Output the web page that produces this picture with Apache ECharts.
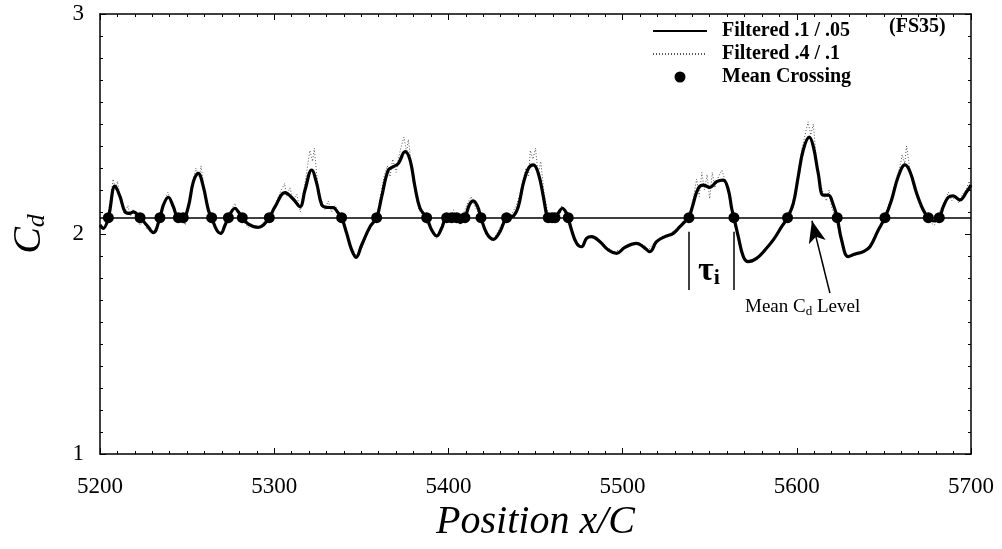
<!DOCTYPE html>
<html>
<head>
<meta charset="utf-8">
<script src="https://cdn.jsdelivr.net/npm/echarts@6/dist/echarts.min.js"></script>
<style>
html,body{margin:0;padding:0;background:#fff;}
#c{width:1002px;height:549px;}
</style>
</head>
<body>
<div id="c"></div>
<script>
// ---- data ----
const meanLevel = 2.074;

const solidX = [5200,5201.9,5204.8,5208.6,5211.5,5214.4,5217.2,5219.1,5223,5226.8,5230.6,5234.4,5236.4,5239.2,5242.1,5245,5247.8,5250.7,5253.6,5256.4,5259.3,5262.2,5264.1,5267,5269.3,5271.8,5273.7,5277.5,5279.4,5281.7,5285.2,5290.9,5293.8,5297.2,5300.5,5306.2,5311,5314.8,5317.7,5321.5,5324.4,5327.3,5330.1,5334,5336.2,5338.7,5341.6,5344.5,5347,5350.2,5355,5358.8,5361.7,5365.5,5368.4,5371.3,5375.1,5378,5380.8,5383.7,5387.5,5390.4,5393.3,5396.1,5399,5401.9,5404.8,5406.7,5409.5,5412,5414.3,5416.8,5418.7,5422,5425.8,5429.6,5433.4,5437.3,5440.1,5443,5445.9,5448.8,5451.6,5454.5,5456.4,5457.3,5461.2,5463,5465.4,5467.9,5468.8,5470.7,5473.6,5476.5,5479.3,5482.2,5487,5491.8,5496.6,5501.3,5508,5511.9,5515.7,5519.5,5524.3,5529.1,5532.9,5536.7,5538.1,5540.6,5543.4,5546.3,5550.1,5554,5557.8,5560.7,5562.6,5563.9,5566.4,5569.3,5572.1,5576.9,5581.7,5586.5,5591.3,5594.7,5598,5600.8,5603.7,5607.2,5609.5,5612.3,5615.2,5618.1,5621,5623.2,5625.7,5629.5,5633.4,5638.2,5642,5646.8,5650.6,5654.4,5658.2,5662.1,5665,5668.8,5672.6,5675.5,5678.7,5681.8,5684.1,5687,5689.8,5693.6,5697.5,5700];
const solidY = [2.041,2.026,2.074,2.218,2.170,2.101,2.094,2.101,2.074,2.041,2.006,2.074,2.132,2.167,2.124,2.074,2.074,2.124,2.238,2.276,2.215,2.109,2.074,2.018,2.003,2.041,2.074,2.117,2.101,2.074,2.045,2.030,2.041,2.074,2.124,2.188,2.158,2.124,2.200,2.291,2.230,2.132,2.121,2.120,2.101,2.074,2.003,1.927,1.894,1.950,2.033,2.074,2.170,2.291,2.306,2.321,2.374,2.336,2.215,2.117,2.074,2.018,1.991,2.026,2.074,2.074,2.064,2.052,2.074,2.132,2.151,2.124,2.074,2.003,1.976,2.011,2.074,2.082,2.124,2.230,2.298,2.314,2.276,2.170,2.086,2.074,2.074,2.094,2.117,2.094,2.074,2.018,1.958,1.942,1.980,1.988,1.965,1.927,1.912,1.939,1.957,1.942,1.920,1.965,1.988,2.003,2.033,2.064,2.074,2.139,2.207,2.222,2.212,2.238,2.245,2.200,2.117,2.074,1.988,1.897,1.874,1.889,1.927,1.973,2.033,2.074,2.139,2.260,2.382,2.440,2.397,2.276,2.177,2.177,2.132,2.074,1.973,1.897,1.909,1.920,1.942,2.018,2.074,2.155,2.260,2.314,2.283,2.185,2.109,2.074,2.059,2.074,2.124,2.167,2.173,2.155,2.192,2.223];

const dottedX = [5200,5202,5204,5206,5207.5,5209,5210,5212,5214,5216,5217.5,5219,5221,5223,5225,5227,5229,5231,5233,5235,5237,5239,5241,5243,5245,5247,5249,5251,5253,5255,5257,5258,5260,5262,5264,5266,5268,5270,5272,5274,5276,5277.5,5279,5281,5283,5285,5288,5291,5294,5296,5298,5300,5302,5304,5306,5307,5309,5311,5313,5315,5317,5319,5320.5,5322,5323,5325,5327,5329,5331,5333,5335,5337,5339,5341,5344,5347,5350,5354,5357,5359,5361,5363,5365,5366.5,5368,5370,5371.5,5373,5374.5,5376,5377,5379,5381,5383,5385,5387,5389,5391,5393,5395,5397,5399,5401,5403,5405,5407,5409,5411,5413,5415,5417,5419,5421,5423,5425,5427,5429,5431,5433,5435,5437,5439,5441,5443,5444.5,5446,5447,5448.5,5450,5451.5,5453,5455,5457,5459,5461,5463,5465,5467,5469,5471,5474,5477,5480,5483,5487,5491,5495,5500,5504,5508,5512,5515,5519,5523,5527,5530,5533,5535,5537,5539,5541,5542.5,5544,5545.5,5547,5548.5,5550,5551.5,5553,5555,5557,5559,5561,5563,5565,5567,5570,5573,5577,5581,5585,5589,5592,5595,5597,5599,5601,5603,5605,5606.5,5608,5609.5,5611,5613,5615,5617,5618.5,5620,5622,5624,5626,5629,5632,5636,5640,5643,5646,5649,5651,5653,5655,5657,5659,5660.5,5662,5663,5665,5667,5669,5671,5673,5675,5677,5679,5681,5683,5685,5687,5689,5691,5693,5695,5697,5699,5700];
const dottedY = [2.05,2.02,2.06,2.15,2.25,2.20,2.24,2.15,2.09,2.13,2.08,2.11,2.07,2.04,2.06,2.02,2.03,2.00,2.05,2.10,2.15,2.19,2.14,2.09,2.05,2.08,2.04,2.14,2.22,2.30,2.26,2.31,2.20,2.13,2.07,2.03,2.01,2.00,2.04,2.09,2.12,2.14,2.10,2.08,2.05,2.03,2.04,2.03,2.05,2.08,2.07,2.12,2.16,2.20,2.23,2.17,2.21,2.15,2.18,2.10,2.20,2.30,2.38,2.33,2.39,2.22,2.16,2.11,2.15,2.10,2.13,2.09,2.07,2.02,1.95,1.90,1.93,2.01,2.05,2.09,2.17,2.26,2.31,2.26,2.34,2.28,2.35,2.40,2.44,2.37,2.43,2.30,2.22,2.11,2.09,2.05,2.04,2.00,1.98,2.02,2.05,2.09,2.06,2.11,2.05,2.07,2.10,2.14,2.17,2.13,2.10,2.05,2.02,1.99,1.97,1.99,2.02,2.05,2.08,2.07,2.10,2.13,2.18,2.25,2.30,2.26,2.38,2.34,2.39,2.27,2.33,2.18,2.10,2.06,2.09,2.05,2.13,2.09,2.04,2.00,1.95,1.94,1.99,1.98,1.97,1.94,1.92,1.93,1.95,1.96,1.95,1.93,1.97,1.99,2.00,2.02,2.03,2.06,2.08,2.11,2.18,2.25,2.17,2.28,2.20,2.27,2.16,2.28,2.21,2.26,2.29,2.24,2.19,2.09,2.02,1.95,1.88,1.88,1.89,1.92,1.96,2.00,2.05,2.07,2.12,2.19,2.29,2.39,2.46,2.51,2.45,2.50,2.36,2.24,2.19,2.15,2.20,2.12,2.08,2.02,1.94,1.90,1.90,1.91,1.93,1.96,2.01,2.06,2.08,2.14,2.19,2.25,2.30,2.36,2.32,2.40,2.29,2.22,2.17,2.12,2.10,2.08,2.05,2.04,2.08,2.12,2.15,2.19,2.15,2.17,2.14,2.18,2.20,2.24,2.21];

const crossingX = [5204.8,5223,5234.4,5245,5247.8,5264.1,5273.7,5281.7,5297.2,5338.7,5358.8,5387.5,5399,5401.9,5404.8,5409.5,5418.7,5433.4,5457.3,5459.5,5461.2,5468.8,5538.1,5563.9,5594.7,5623.2,5650.6,5675.5,5681.8];

const xTicks = [5200,5300,5400,5500,5600,5700];
const yTicks = [1,2,3];

// τ_i bracket and arrow (data coordinates)
const tauX = [5538.1, 5563.9];
const tauY = [2.01, 1.745];
const arrowFrom = [5619, 1.732];
const arrowTo = [5608.7, 2.06];

// ---- chart ----
const serif = 'Liberation Serif';
const chart = echarts.init(document.getElementById('c'));
const zip = (xs, ys) => xs.map((x, i) => [x, ys[i]]);

const axisCommon = {
  type: 'value',
  axisLine: {show: true, lineStyle: {color: '#000', width: 1.5}},
  axisTick: {show: true, inside: true, length: 6, lineStyle: {color: '#000', width: 1}},
  minorTick: {show: true, splitNumber: 10, length: 3, lineStyle: {color: '#000', width: 1}},
  splitLine: {show: false},
  minorSplitLine: {show: false}
};

const hiddenSymbol = {color: 'rgba(0,0,0,0)', borderWidth: 0, opacity: 0};

chart.setOption({
  animation: false,
  backgroundColor: '#fff',
  grid: {left: 100, right: 31, top: 14, bottom: 95, containLabel: false},
  xAxis: [
    Object.assign({}, axisCommon, {
      min: xTicks[0], max: xTicks[xTicks.length - 1], interval: 100,
      position: 'bottom',
      axisLabel: {color: '#000', fontFamily: serif, fontSize: 23, margin: 21, formatter: v => String(v)},
      name: 'Position x/C', nameLocation: 'middle', nameGap: 46,
      nameTextStyle: {color: '#000', fontFamily: serif, fontSize: 40, fontStyle: 'italic'}
    }),
    Object.assign({}, axisCommon, {
      min: xTicks[0], max: xTicks[xTicks.length - 1], interval: 100,
      position: 'top', axisLabel: {show: false}
    })
  ],
  yAxis: [
    Object.assign({}, axisCommon, {
      min: yTicks[0], max: yTicks[yTicks.length - 1], interval: 1,
      position: 'left',
      axisLabel: {color: '#000', fontFamily: serif, fontSize: 23, margin: 16},
      name: '{c|C}{d|d}', nameLocation: 'middle', nameGap: 50, nameRotate: 90,
      nameTextStyle: {
        color: '#000',
        rich: {
          c: {fontFamily: serif, fontSize: 40, fontStyle: 'italic', color: '#000'},
          d: {fontFamily: serif, fontSize: 26, fontStyle: 'italic', color: '#000', padding: [16, 0, 0, 0]}
        }
      }
    }),
    Object.assign({}, axisCommon, {
      min: yTicks[0], max: yTicks[yTicks.length - 1], interval: 1,
      position: 'right', axisLabel: {show: false}
    })
  ],
  legend: {
    orient: 'vertical', left: 647, top: 16,
    itemWidth: 54, itemHeight: 11, itemGap: 3,
    textStyle: {color: '#000', fontFamily: serif, fontSize: 20, fontWeight: 'bold', lineHeight: 20, padding: [0, 0, 0, 10]},
    data: [
      {name: 'Filtered .1 / .05', itemStyle: hiddenSymbol},
      {name: 'Filtered .4 / .1', itemStyle: hiddenSymbol},
      {name: 'Mean Crossing', icon: 'circle', itemStyle: {color: '#000', opacity: 1}}
    ]
  },
  series: [
    {
      name: 'Filtered .4 / .1', type: 'line', data: zip(dottedX, dottedY),
      symbol: 'none', smooth: false,
      lineStyle: {color: '#555', width: 1, type: [1, 2]},
      itemStyle: {color: '#555'}
    },
    {
      name: 'Filtered .1 / .05', type: 'line', data: zip(solidX, solidY),
      symbol: 'none', smooth: 0.4,
      lineStyle: {color: '#000', width: 3.2},
      itemStyle: {color: '#000'},
      markLine: {
        silent: true, symbol: ['none', 'none'], label: {show: false},
        lineStyle: {color: '#000', width: 1.5, type: 'solid'},
        data: [
          [{coord: [xTicks[0], meanLevel]}, {coord: [xTicks[xTicks.length - 1], meanLevel]}],
          [{coord: [tauX[0], tauY[0]]}, {coord: [tauX[0], tauY[1]]}],
          [{coord: [tauX[1], tauY[0]]}, {coord: [tauX[1], tauY[1]]}],
          [{coord: arrowFrom, symbol: 'none'}, {coord: arrowTo, symbol: 'arrow', symbolSize: [13, 22]}]
        ]
      }
    },
    {
      name: 'Mean Crossing', type: 'scatter',
      data: crossingX.map(x => [x, meanLevel]),
      symbol: 'circle', symbolSize: 11,
      itemStyle: {color: '#000', opacity: 1}, z: 5
    }
  ],
  graphic: [
    {type: 'text', left: 889, top: 17,
     style: {text: '(FS35)', fill: '#000', font: 'bold 20px "Liberation Serif"'}},
    {type: 'text', left: 698, top: 254,
     style: {text: '{t|τ}{i|i}', fill: '#000',
       rich: {t: {fontFamily: serif, fontSize: 34, fontWeight: 'bold', fill: '#000'},
              i: {fontFamily: serif, fontSize: 22, fontWeight: 'bold', fill: '#000', padding: [14, 0, 0, 0]}}}},
    {type: 'text', left: 745, top: 298,
     style: {text: '{a|Mean C}{b|d}{a| Level}', fill: '#000',
       rich: {a: {fontFamily: serif, fontSize: 19, fill: '#000'},
              b: {fontFamily: serif, fontSize: 13, fill: '#000', padding: [8, 0, 0, 0]}}}}
  ]
});
</script>
</body>
</html>
